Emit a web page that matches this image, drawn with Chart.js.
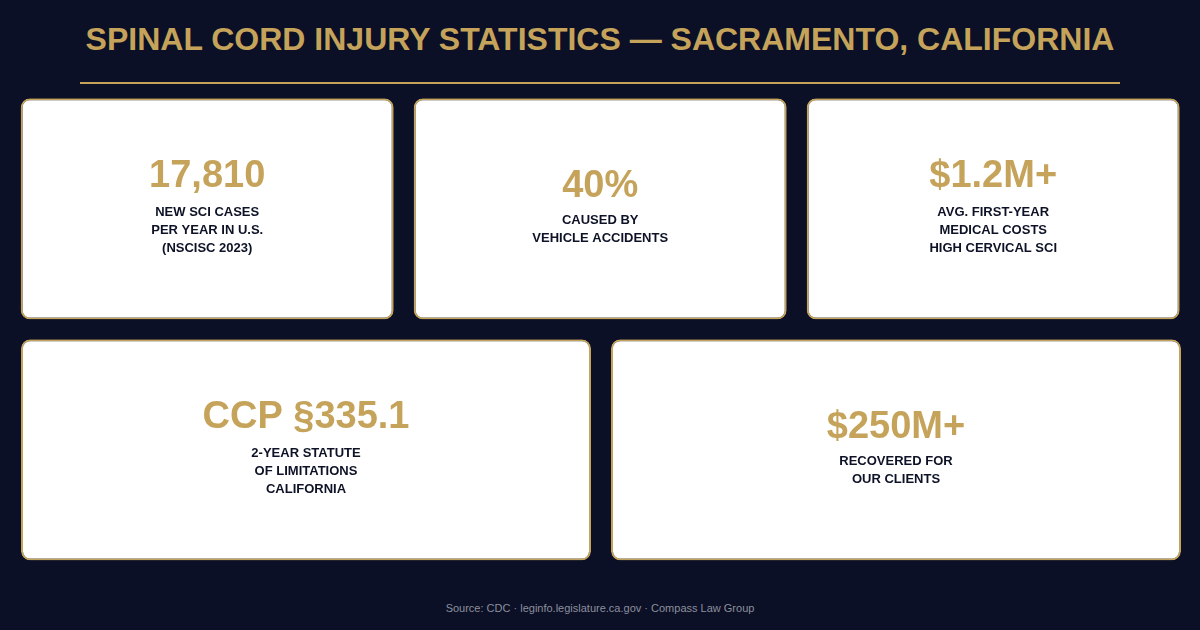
<!DOCTYPE html>
<html>
<head>
<meta charset="utf-8">
<script src="https://cdn.jsdelivr.net/npm/chart.js@4.4.0/dist/chart.umd.min.js"></script>
<style>
  html, body { margin: 0; padding: 0; }
  body {
    width: 1200px; height: 630px; overflow: hidden; position: relative;
    background: #0b1026;
    font-family: "Liberation Sans", Arial, sans-serif;
  }
  #title {
    position: absolute; left: 0; top: 19px; width: 1200px;
    text-align: center; line-height: 40px;
    font-size: 32px; font-weight: bold; color: #c5a35a;
  }
  #rule {
    position: absolute; left: 80px; top: 82px; width: 1040px; height: 2px;
    background: #c5a35a;
  }
  .row { position: absolute; left: 0; width: 1200px; height: 224px; }
  #row1 { top: 97px; }
  #row2 { top: 338px; }
  #footer {
    position: absolute; left: 0; top: 600px; width: 1200px;
    text-align: center; line-height: 16px;
    font-size: 11px; color: #8b8f9d;
  }
</style>
</head>
<body>
<div id="title">SPINAL CORD INJURY STATISTICS — SACRAMENTO, CALIFORNIA</div>
<div id="rule"></div>
<div class="row" id="row1"><canvas id="Chart1"></canvas></div>
<div class="row" id="row2"><canvas id="Chart2"></canvas></div>
<div id="footer">Source: CDC · leginfo.legislature.ca.gov · Compass Law Group</div>

<script>
// top row stats
const row1Stats = ['17,810', '40%', '$1.2M+'];
const row1Labels = [
    ['NEW SCI CASES', 'PER YEAR IN U.S.', '(NSCISC 2023)'],
    ['CAUSED BY', 'VEHICLE ACCIDENTS'],
    ['AVG. FIRST-YEAR', 'MEDICAL COSTS', 'HIGH CERVICAL SCI']
];
const row1Fill = [1, 1, 1];

// bottom row stats
const row2Stats = ['CCP §335.1', '$250M+'];
const row2Labels = [
    ['2-YEAR STATUTE', 'OF LIMITATIONS', 'CALIFORNIA'],
    ['RECOVERED FOR', 'OUR CLIENTS']
];
const row2Fill = [1, 1];

const gold = '#c5a35a';
const ink = '#0d1226';
const fontFamily = '"Liberation Sans", Arial, sans-serif';

// writes the stat and its caption in the middle of each card
const cardText = {
    id: 'cardText',
    afterDatasetsDraw(chart, args, opts) {
        const c = chart.ctx;
        const meta = chart.getDatasetMeta(0);
        meta.data.forEach((bar, i) => {
            const lines = opts.labels[i];
            const cy = (bar.y + bar.base) / 2;
            const short = 3 - lines.length;
            // cap-height centres, converted to alphabetic baselines
            const numMid = cy - 36 + short * 10.6;
            const lblMid = cy + 2.6 + short * 7.7;
            c.save();
            c.textAlign = 'center';
            c.textBaseline = 'alphabetic';
            c.fillStyle = gold;
            c.font = 'bold 38px ' + fontFamily;
            c.fillText(opts.stats[i], bar.x, numMid + 13.6);
            c.fillStyle = ink;
            c.font = 'bold 13px ' + fontFamily;
            lines.forEach((t, j) => c.fillText(t, bar.x, lblMid + 4.65 + j * 18));
            c.restore();
        });
    }
};

function cardRow(id, stats, labels, fill, pct, padLeft, padRight) {
    const ctx = document.getElementById(id).getContext('2d');
    if (ctx)
        new Chart(ctx, {
            type: 'bar',
            data: {
                labels: stats,
                datasets: [{
                    data: fill,
                    backgroundColor: '#ffffff',
                    borderColor: gold,
                    borderWidth: 2,
                    borderRadius: 9,
                    borderSkipped: false,
                    categoryPercentage: 1,
                    barPercentage: pct
                }]
            },
            options: {
                responsive: true,
                maintainAspectRatio: false,
                animation: false,
                events: [],
                layout: { padding: { left: padLeft, right: padRight, top: 1.3, bottom: 1.5 } },
                scales: {
                    x: { display: false },
                    y: { display: false, min: 0, max: 1 }
                },
                plugins: {
                    legend: { display: false },
                    tooltip: { enabled: false },
                    cardText: { stats: stats, labels: labels }
                }
            },
            plugins: [cardText]
        });
}

cardRow('Chart1', row1Stats, row1Labels, row1Fill, 373 / 393, 10.7, 10.3);
cardRow('Chart2', row2Stats, row2Labels, row2Fill, 570 / 590, 11, 9);
</script>
</body>
</html>
